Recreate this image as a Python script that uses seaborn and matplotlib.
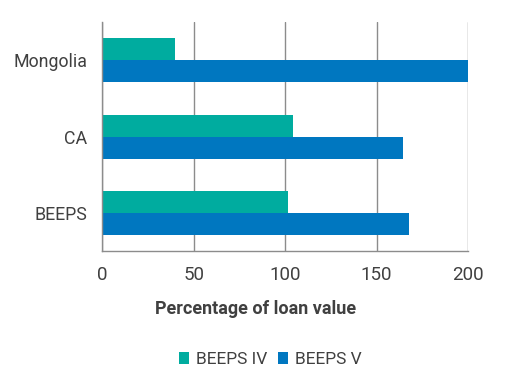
import pandas as pd
import matplotlib
matplotlib.use('Agg')
import matplotlib.pyplot as plt
import seaborn as sns

# dados
regions = ['Mongolia', 'CA', 'BEEPS']
beeps_iv = [40, 104, 101.5]
beeps_v = [200, 164.5, 167.5]
series = ['BEEPS IV', 'BEEPS V']
x_ticks = [0, 50, 100, 150, 200]

df = pd.DataFrame({
    'region': regions * 2,
    'value': beeps_iv + beeps_v,
    'survey': [series[0]] * 3 + [series[1]] * 3,
})

sns.set_style('white')
plt.rcParams['font.family'] = ['Roboto', 'DejaVu Sans']
txt = '#404040'
grid = '#8c8c8c'

fig = plt.figure(figsize=(5.08, 3.84), dpi=100)
ax = fig.add_axes([0.2014, 0.3464, 0.72, 0.5956])

sns.barplot(data=df, y='region', x='value', hue='survey', order=regions,
            hue_order=series, palette=['#00AC9F', '#0077C0'], width=0.58,
            orient='h', saturation=1, linewidth=0, ax=ax)

ax.set_xlim(0, 200)
ax.set_ylim(2.5, -0.5)
ax.set_xticks(x_ticks)
ax.set_xticklabels([str(t) for t in x_ticks], fontsize=13.5, color=txt)
ax.tick_params(axis='x', length=4, width=1, color=grid, pad=7)
ax.xaxis.grid(True, color=grid, linewidth=1)
ax.set_axisbelow(True)

# rótulos das categorias sem tick, tracinhos nas fronteiras
ax.set_yticks(range(len(regions)))
ax.set_yticklabels(regions, fontsize=12.8, color=txt)
ax.tick_params(axis='y', length=0, pad=11)
ax.set_yticks([-0.5, 0.5, 1.5, 2.5], minor=True)
ax.tick_params(axis='y', which='minor', length=5, width=1, color=grid)

for s in ['top', 'right']:
    ax.spines[s].set_visible(False)
for s in ['left', 'bottom']:
    ax.spines[s].set_color(grid)
    ax.spines[s].set_linewidth(1)

ax.set_ylabel('')
ax.set_xlabel('Percentage of loan value', fontsize=13, fontweight='bold',
              color=txt, labelpad=12)
ax.xaxis.set_label_coords(0.42, -0.215)

ax.legend(loc='center', bbox_to_anchor=(0.16, -0.5, 0.6, 0.05), ncol=2, frameon=False,
          fontsize=12.5, handlelength=0.6, handleheight=0.6, handletextpad=0.4,
          columnspacing=0.6, labelcolor=txt)

fig.savefig('out.png', dpi=100)
